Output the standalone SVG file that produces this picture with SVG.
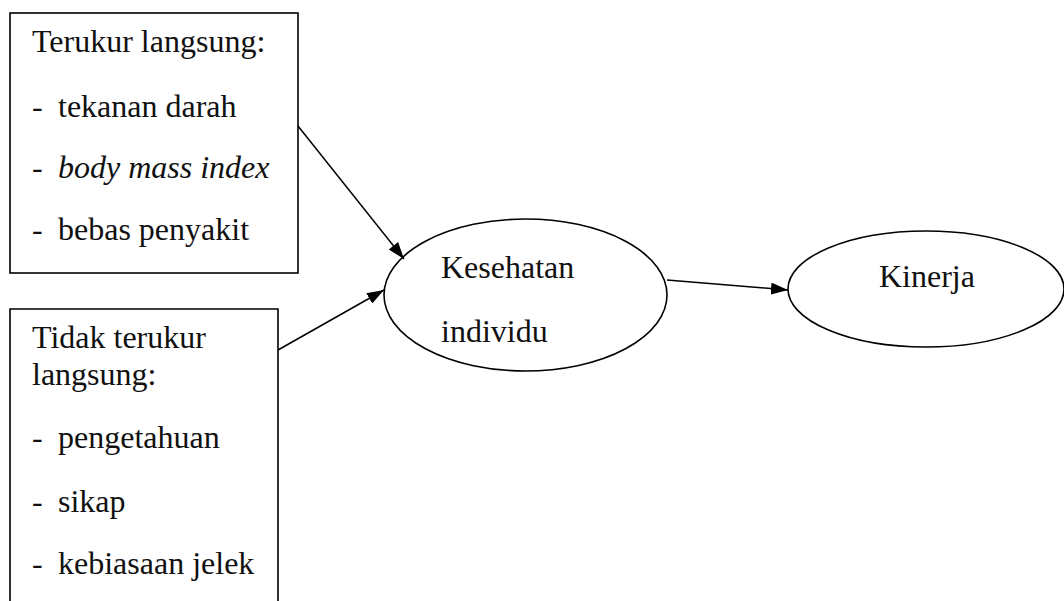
<svg xmlns="http://www.w3.org/2000/svg" width="1064" height="601" viewBox="0 0 1064 601">
  <style>
    .box { fill: none; stroke: #000; stroke-width: 1.6; }
    .oval { fill: none; stroke: #000; stroke-width: 1.6; }
    .lbl { font-family: "Liberation Serif", "Times New Roman", serif; font-size: 32px; fill: #111; }
    .edge { stroke: #000; stroke-width: 1.5; fill: none; marker-end: url(#arrow); }
  </style>
  <defs>
    <marker id="arrow" markerUnits="userSpaceOnUse" markerWidth="18" markerHeight="12" refX="17" refY="6" orient="auto">
      <path d="M0,0 L17,6 L0,12 Z" fill="#000"/>
    </marker>
  </defs>
  <rect width="1064" height="601" fill="#fff"/>

  <g id="terukur">
    <rect class="box" x="10" y="13" width="288" height="260"/>
    <text class="lbl" x="32" y="52">Terukur langsung:</text>
    <text class="lbl" x="32" y="117">-</text>
    <text class="lbl" x="58" y="117">tekanan darah</text>
    <text class="lbl" x="32" y="178">-</text>
    <text class="lbl" x="58" y="178" font-style="italic">body mass index</text>
    <text class="lbl" x="32" y="240">-</text>
    <text class="lbl" x="58" y="240">bebas penyakit</text>
  </g>

  <g id="tidak-terukur">
    <path class="box" d="M10,610 L10,309 L278,309 L278,610"/>
    <text class="lbl" x="32" y="348">Tidak terukur</text>
    <text class="lbl" x="32" y="385">langsung:</text>
    <text class="lbl" x="32" y="448">-</text>
    <text class="lbl" x="58" y="448">pengetahuan</text>
    <text class="lbl" x="32" y="512">-</text>
    <text class="lbl" x="58" y="512">sikap</text>
    <text class="lbl" x="32" y="574">-</text>
    <text class="lbl" x="58" y="574">kebiasaan jelek</text>
  </g>

  <g id="kesehatan">
    <ellipse class="oval" cx="525.5" cy="295" rx="141.5" ry="76"/>
    <text class="lbl" x="441" y="278">Kesehatan</text>
    <text class="lbl" x="441" y="342">individu</text>
  </g>

  <g id="kinerja">
    <ellipse class="oval" cx="926" cy="289" rx="138" ry="58"/>
    <text class="lbl" x="879" y="287">Kinerja</text>
  </g>

  <g id="connectors">
    <line class="edge" x1="298" y1="126" x2="404" y2="259"/>
    <line class="edge" x1="278" y1="350" x2="384" y2="290"/>
    <line class="edge" x1="667" y1="280" x2="788" y2="290"/>
  </g>
</svg>
